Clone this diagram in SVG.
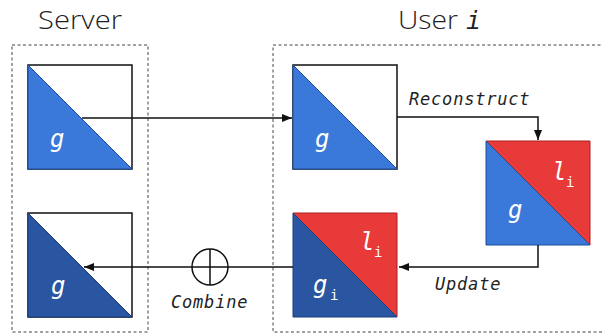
<svg xmlns="http://www.w3.org/2000/svg" width="602" height="334" viewBox="0 0 602 334">
<defs>
<style>
.frame{fill:none;stroke:#444;stroke-width:1;stroke-dasharray:3 2.5}
.sq{fill:#fff;stroke:#111;stroke-width:1.5}
.blue{fill:#3a78d9;stroke:#1d4f9e;stroke-width:1}
.dblue{fill:#2a55a0;stroke:#1a3f80;stroke-width:1}
.red{fill:#e83a38;stroke:#a82020;stroke-width:1}
.var{font-family:"DejaVu Sans Mono",monospace;font-style:italic;fill:#fff;font-size:24px}
.sub{font-family:"DejaVu Sans Mono",monospace;fill:#fff;font-size:14px}
.lbl{font-family:"DejaVu Sans Mono",monospace;font-style:italic;fill:#222;font-size:17px;letter-spacing:0.8px}
.title{font-family:"Open Sans","Liberation Sans",sans-serif;font-weight:300;fill:#222;font-size:25px}
.edge{fill:none;stroke:#111;stroke-width:1.5}
</style>
<marker id="ah" viewBox="0 0 10 10" refX="10" refY="5" markerWidth="10" markerHeight="10" markerUnits="userSpaceOnUse" orient="auto">
<path d="M0,1 L10,5 L0,9 Z" fill="#111"/>
</marker>
</defs>
<rect width="602" height="334" fill="#fff"/>
<g id="titles">
<text class="title" x="38" y="29" textLength="84" lengthAdjust="spacingAndGlyphs">Server</text>
<text class="title" x="398" y="29" textLength="60" lengthAdjust="spacingAndGlyphs">User</text>
<text x="466" y="29" font-family="DejaVu Sans Mono,monospace" font-style="italic" font-size="25" fill="#222">i</text>
</g>
<g id="frames">
<rect class="frame" x="12" y="45" width="136" height="287"/>
<rect class="frame" x="273" y="45" width="340" height="287"/>
</g>
<g id="server-global">
<rect class="sq" x="28" y="65" width="104" height="104"/>
<path class="blue" d="M28,65 L132,169 L28,169 Z"/>
<text class="var" x="50" y="147">g</text>
</g>
<g id="user-global">
<rect class="sq" x="293" y="65" width="104" height="104"/>
<path class="blue" d="M293,65 L397,169 L293,169 Z"/>
<text class="var" x="315" y="147">g</text>
</g>
<g id="user-reconstructed">
<path class="red" d="M486,141 L590,141 L590,245 Z"/>
<path class="blue" d="M486,141 L590,245 L486,245 Z"/>
<text class="var" x="508" y="218">g</text>
<text class="var" x="552" y="180">l</text>
<text class="sub" x="566" y="187">i</text>
</g>
<g id="user-updated">
<path class="red" d="M293,213 L397,213 L397,317 Z"/>
<path class="dblue" d="M293,213 L397,317 L293,317 Z"/>
<text class="var" x="360" y="250">l</text>
<text class="sub" x="374" y="257">i</text>
<text class="var" x="313" y="293">g</text>
<text class="sub" x="330" y="300">i</text>
</g>
<g id="server-combined">
<rect class="sq" x="28" y="213" width="104" height="104"/>
<path class="dblue" d="M28,213 L132,317 L28,317 Z"/>
<text class="var" x="51" y="294">g</text>
</g>
<g id="combine-op">
<circle cx="210" cy="267" r="18" fill="none" stroke="#111" stroke-width="1.5"/>
<path d="M192,267 H228 M210,249 V285" stroke="#111" stroke-width="1.5"/>
</g>
<g id="connectors">
<path class="edge" d="M82,118 H292" marker-end="url(#ah)"/>
<path class="edge" d="M397,117 H538 V140" marker-end="url(#ah)"/>
<path class="edge" d="M538,245 V267 H399" marker-end="url(#ah)"/>
<path class="edge" d="M293,267 H228 M192,267 H84" marker-end="url(#ah)"/>
<text class="lbl" x="409" y="105">Reconstruct</text>
<text class="lbl" x="435" y="290">Update</text>
<text class="lbl" x="171" y="308">Combine</text>
</g>
</svg>
